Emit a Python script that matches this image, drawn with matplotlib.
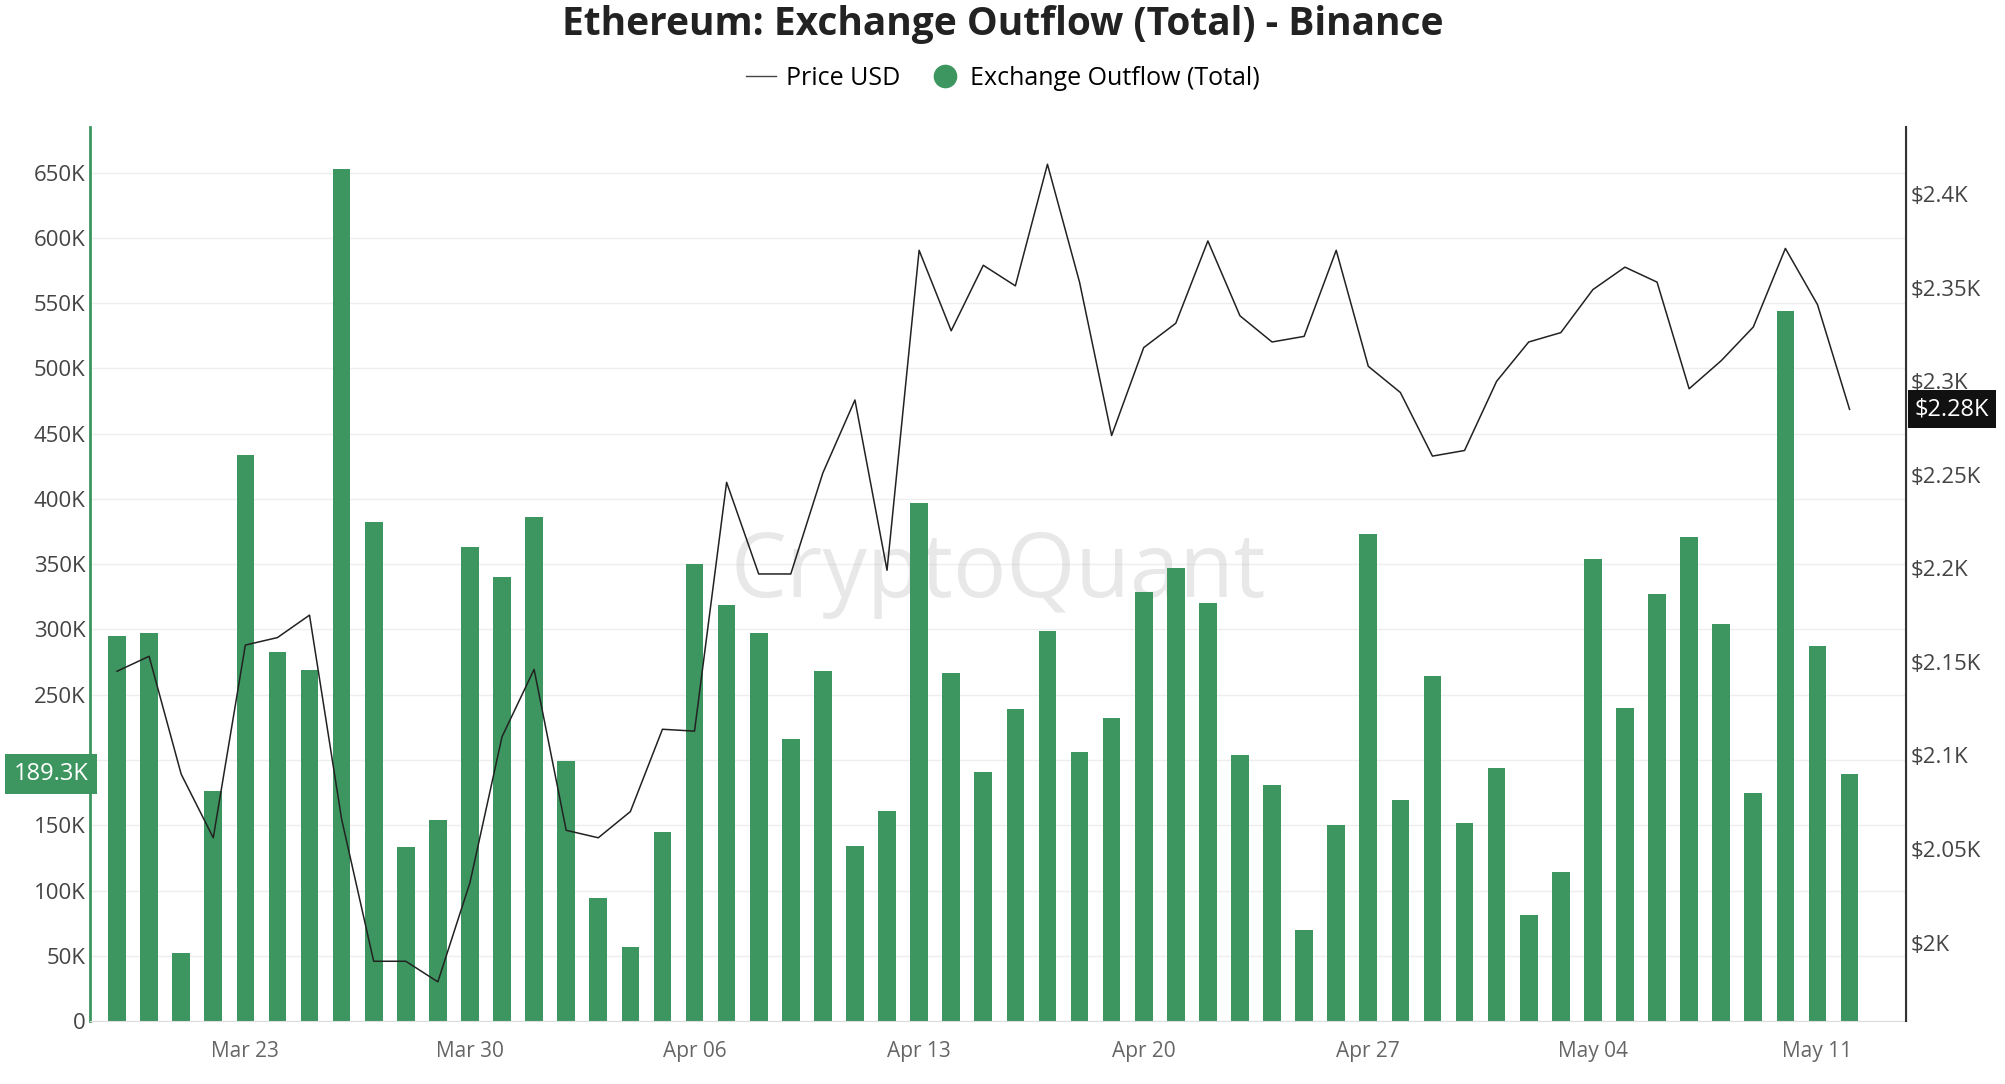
import matplotlib.pyplot as plt
import matplotlib.dates as mdates
import matplotlib.ticker as mticker
import numpy as np
import pandas as pd

plt.rcParams["font.family"] = ["Open Sans", "DejaVu Sans"]

dates = pd.date_range("2025-03-19", "2025-05-12", freq="D")

outflow_k = [295, 297, 52, 176, 434, 283, 269, 653, 382, 133, 154, 363, 340, 386,
             199, 94, 57, 145, 350, 319, 297, 216, 268, 134, 161, 397, 267, 191,
             239, 299, 206, 232, 329, 347, 320, 204, 181, 70, 150, 373, 169, 264,
             152, 194, 81, 114, 354, 240, 327, 371, 304, 175, 544, 287, 189.3]

price = [2145, 2153, 2090, 2056, 2159, 2163, 2175, 2066, 1990, 1990, 1979, 2032,
         2110, 2146, 2060, 2056, 2070, 2114, 2113, 2246, 2197, 2197, 2251, 2290,
         2199, 2370, 2327, 2362, 2351, 2416, 2353, 2271, 2318, 2331, 2375, 2335,
         2321, 2324, 2370, 2308, 2294, 2260, 2263, 2300, 2321, 2326, 2349, 2361,
         2353, 2296, 2311, 2329, 2371, 2341, 2285]

tick_dates = pd.to_datetime(["2025-03-23", "2025-03-30", "2025-04-06", "2025-04-13",
                             "2025-04-20", "2025-04-27", "2025-05-04", "2025-05-11"])

GREEN = "#3d9660"

fig = plt.figure(figsize=(20.06, 10.84), dpi=100)
ax = fig.add_axes([0.045, 0.058, 0.905, 0.825])
ax2 = ax.twinx()

ax.bar(dates, outflow_k, width=0.55, color=GREEN, zorder=2)
ax2.plot(dates, price, color="#222222", lw=1.1, zorder=3)

ax.set_ylim(0, 685)
ax.set_yticks(np.arange(0, 651, 50))
ax.yaxis.set_major_formatter(mticker.FuncFormatter(
    lambda v, p: "0" if v == 0 else ("" if v == 200 else f"{int(v)}K")))
ax2.set_ylim(1958, 2436)
ax2.set_yticks(np.arange(2000, 2401, 50))
ax2.yaxis.set_major_formatter(mticker.FuncFormatter(lambda v, p: f"${v/1000:g}K"))

ax.set_xlim(pd.Timestamp("2025-03-18 04:00"), pd.Timestamp("2025-05-13 18:00"))
ax.set_xticks(tick_dates)
ax.xaxis.set_major_formatter(mdates.DateFormatter("%b %d"))

ax.grid(axis="y", color="#eeeeee", lw=1, zorder=0)
ax.set_axisbelow(True)
for a in (ax, ax2):
    a.spines["top"].set_visible(False)
    a.tick_params(length=0, labelsize=16, colors="#444444")
ax.tick_params(axis="x", labelsize=15, colors="#666666", pad=14)
ax.spines["left"].set_color(GREEN)
ax.spines["left"].set_linewidth(2)
ax.spines["bottom"].set_color("#dddddd")
ax2.spines["left"].set_visible(False)
ax2.spines["bottom"].set_visible(False)
ax2.spines["right"].set_color("#333333")
ax2.spines["right"].set_linewidth(1.5)

ax.text(0.5, 0.5, "CryptoQuant", transform=ax.transAxes, fontsize=64,
        color="#cccccc", alpha=0.45, ha="center", va="center", zorder=1)

ax.text(-0.001, outflow_k[-1], f"{outflow_k[-1]}K", transform=ax.get_yaxis_transform(),
        ha="right", va="center", fontsize=17, color="white",
        bbox=dict(boxstyle="square,pad=0.35", fc=GREEN, ec="none"), clip_on=False)
ax2.text(1.005, price[-1], "$2.28K", transform=ax2.get_yaxis_transform(),
         ha="left", va="center", fontsize=17, color="white",
         bbox=dict(boxstyle="square,pad=0.3", fc="#111111", ec="none"), clip_on=False)

fig.suptitle("Ethereum: Exchange Outflow (Total) - Binance", fontsize=28,
             fontweight="bold", y=0.995, color="#222222")
h1 = plt.Line2D([], [], color="#444444", lw=1, label="Price USD")
h2 = plt.Line2D([], [], color=GREEN, marker="o", ms=16, lw=0, label="Exchange Outflow (Total)")
fig.legend(handles=[h1, h2], loc="upper center", bbox_to_anchor=(0.5, 0.96), ncol=2,
           frameon=False, fontsize=18, handlelength=1.2, handletextpad=0.4, columnspacing=1.2)

fig.savefig("out.png", dpi=100)
